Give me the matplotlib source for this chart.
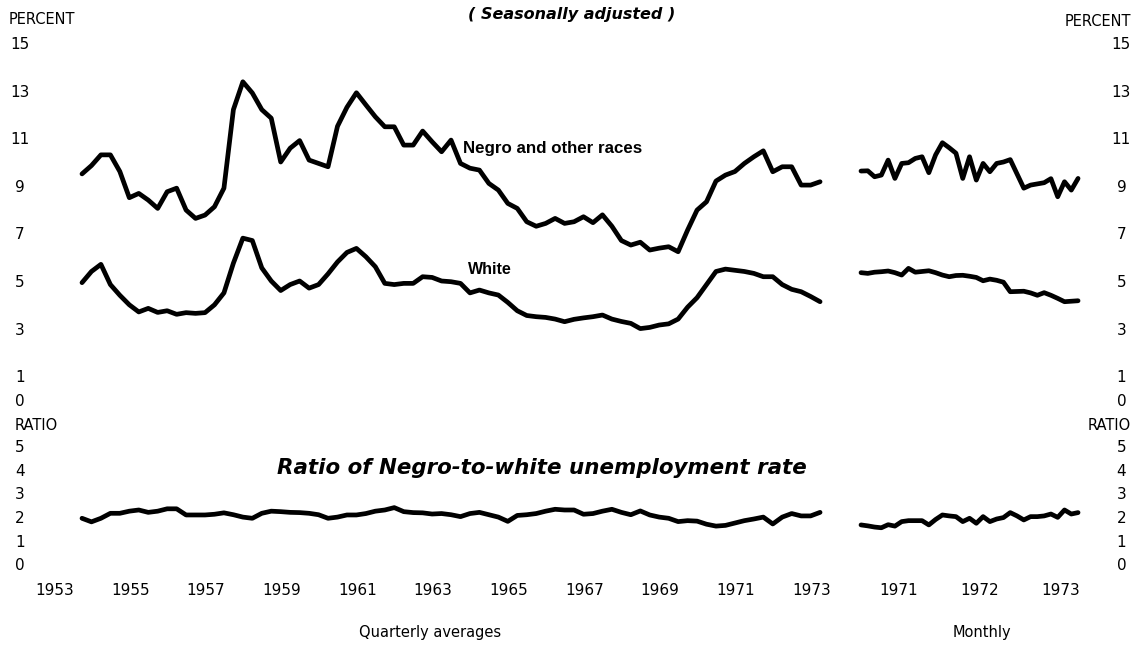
import numpy as np
import pandas as pd
import matplotlib
matplotlib.use("Agg")
import matplotlib.pyplot as plt

# ---------------- data ----------------
q_start, q_end = "1954Q1", "1973Q3"
negro_q = [9.5, 9.85, 10.3, 10.3, 9.6, 8.5, 8.68, 8.4, 8.05, 8.75,
           8.9, 7.98, 7.63, 7.77, 8.12, 8.9, 12.2, 13.37, 12.9, 12.2,
           11.84, 10.0, 10.58, 10.9, 10.08, 9.94, 9.8, 11.5, 12.3, 12.91,
           12.4, 11.9, 11.48, 11.48, 10.71, 10.71, 11.3, 10.85, 10.43, 10.92,
           9.94, 9.74, 9.66, 9.1, 8.82, 8.26, 8.05, 7.49, 7.3, 7.42,
           7.63, 7.42, 7.49, 7.7, 7.45, 7.78, 7.3, 6.7, 6.51, 6.63,
           6.3, 6.38, 6.44, 6.23, 7.14, 7.98, 8.33, 9.2, 9.45, 9.6,
           9.94, 10.22, 10.47, 9.59, 9.8, 9.8, 9.03, 9.03, 9.17]
white_q = [4.93, 5.4, 5.7, 4.85, 4.4, 4.0, 3.7, 3.85, 3.68, 3.75,
           3.6, 3.67, 3.64, 3.67, 4.0, 4.5, 5.75, 6.8, 6.7, 5.55,
           5.0, 4.6, 4.85, 5.0, 4.7, 4.85, 5.3, 5.8, 6.2, 6.37,
           6.02, 5.6, 4.9, 4.85, 4.9, 4.9, 5.18, 5.15, 5.0, 4.97,
           4.9, 4.5, 4.62, 4.5, 4.41, 4.1, 3.75, 3.55, 3.5, 3.47,
           3.4, 3.29, 3.39, 3.45, 3.5, 3.57, 3.4, 3.3, 3.22, 3.0,
           3.05, 3.15, 3.2, 3.4, 3.9, 4.3, 4.85, 5.4, 5.5, 5.45,
           5.4, 5.32, 5.18, 5.18, 4.85, 4.65, 4.55, 4.35, 4.13]
ratio_q = [1.95, 1.8, 1.95, 2.16, 2.16, 2.25, 2.3, 2.2, 2.25, 2.35,
           2.35, 2.09, 2.09, 2.09, 2.12, 2.18, 2.1, 2.0, 1.95, 2.16,
           2.25, 2.23, 2.2, 2.19, 2.16, 2.1, 1.95, 2.0, 2.09, 2.09,
           2.15, 2.25, 2.3, 2.4, 2.23, 2.19, 2.18, 2.13, 2.15, 2.1,
           2.02, 2.15, 2.2, 2.1, 2.0, 1.82, 2.07, 2.1, 2.15, 2.25,
           2.33, 2.3, 2.3, 2.12, 2.15, 2.25, 2.33, 2.2, 2.1, 2.26,
           2.09, 2.0, 1.95, 1.81, 1.85, 1.83, 1.7, 1.62, 1.65, 1.75,
           1.85, 1.92, 2.0, 1.71, 2.0, 2.15, 2.05, 2.05, 2.2]

m_start, m_end = "1971-01", "1973-09"
negro_m = [9.62, 9.63, 9.38, 9.45, 10.08, 9.31, 9.94, 9.97, 10.15, 10.22,
           9.55, 10.3, 10.81, 10.6, 10.37, 9.31, 10.22, 9.24, 9.94, 9.59,
           9.94, 10.0, 10.1, 9.5, 8.9, 9.03, 9.08, 9.13, 9.3, 8.54,
           9.17, 8.82, 9.31]
white_m = [5.35, 5.32, 5.37, 5.39, 5.42, 5.35, 5.25, 5.53, 5.37, 5.4,
           5.43, 5.35, 5.25, 5.18, 5.23, 5.24, 5.2, 5.15, 5.01, 5.08,
           5.03, 4.95, 4.55, 4.56, 4.57, 4.5, 4.4, 4.51, 4.4, 4.27,
           4.13, 4.15, 4.17]
ratio_m = [1.67, 1.63, 1.58, 1.55, 1.68, 1.62, 1.81, 1.85, 1.85, 1.85,
           1.67, 1.9, 2.09, 2.05, 2.02, 1.81, 1.95, 1.74, 2.02, 1.81,
           1.92, 1.98, 2.19, 2.05, 1.88, 2.02, 2.02, 2.05, 2.13, 1.99,
           2.3, 2.13, 2.19]

pct_ticks = [0, 1, 3, 5, 7, 9, 11, 13, 15]
ratio_ticks = [0, 1, 2, 3, 4, 5]
q_year_ticks = list(range(1953, 1974, 2))
m_year_ticks = [1971, 1972, 1973]

# ---------------- positions ----------------
qp = pd.period_range(q_start, q_end, freq="Q")
tq = qp.year + (qp.quarter - 0.5) / 4.0
mp = pd.period_range(m_start, m_end, freq="M")
tm = mp.year + (mp.month - 0.5) / 12.0

W, H = 1143, 646
fig = plt.figure(figsize=(W / 100, H / 100), dpi=100)

def ax_px(x0, y0, x1, y1):
    return fig.add_axes([x0 / W, 1 - y1 / H, (x1 - x0) / W, (y1 - y0) / H])

TOP = (43, 400)
BOT = (446, 564.5)
QX = (40, 840)
MX = (850, 1095)

ax_qt = ax_px(QX[0], TOP[0], QX[1], TOP[1])
ax_qb = ax_px(QX[0], BOT[0], QX[1], BOT[1])
ax_mt = ax_px(MX[0], TOP[0], MX[1], TOP[1])
ax_mb = ax_px(MX[0], BOT[0], MX[1], BOT[1])

pxq = 37.85
q_x0 = 1954.125 - (82 - QX[0]) / pxq
q_x1 = q_x0 + (QX[1] - QX[0]) / pxq
pxm = 81.4
m_x0 = (1971 + 0.5 / 12) - (861 - MX[0]) / pxm
m_x1 = m_x0 + (MX[1] - MX[0]) / pxm

lw = 3.4
kw = dict(color="black", lw=lw, solid_joinstyle="round", solid_capstyle="round")
ax_qt.plot(tq, negro_q, **kw)
ax_qt.plot(tq, white_q, **kw)
ax_qb.plot(tq, ratio_q, **kw)
ax_mt.plot(tm, negro_m, **kw)
ax_mt.plot(tm, white_m, **kw)
ax_mb.plot(tm, ratio_m, **kw)

tick_font = dict(family="DejaVu Sans", size=11)
for ax in (ax_qt, ax_qb, ax_mt, ax_mb):
    for s in ax.spines.values():
        s.set_visible(False)
    ax.set_facecolor("none")
    ax.tick_params(length=0)

for ax in (ax_qt, ax_qb):
    ax.set_xlim(q_x0, q_x1)
for ax in (ax_mt, ax_mb):
    ax.set_xlim(m_x0, m_x1)
for ax in (ax_qt, ax_mt):
    ax.set_ylim(0, 15)
    ax.set_xticks([])
for ax in (ax_qb, ax_mb):
    ax.set_ylim(0, 5)

# left y labels
ax_qt.set_yticks(pct_ticks)
ax_qt.set_yticklabels([str(v) for v in pct_ticks], **tick_font)
ax_qb.set_yticks(ratio_ticks)
ax_qb.set_yticklabels([str(v) for v in ratio_ticks], **tick_font)
for ax in (ax_qt, ax_qb):
    ax.tick_params(axis="y", pad=14.5)
    for lab in ax.get_yticklabels():
        lab.set_ha("center")

# right y labels
for ax, ticks in ((ax_mt, pct_ticks), (ax_mb, ratio_ticks)):
    ax.yaxis.tick_right()
    ax.set_yticks(ticks)
    ax.set_yticklabels([str(v) for v in ticks], **tick_font)
    ax.tick_params(axis="y", pad=19)
    for lab in ax.get_yticklabels():
        lab.set_ha("center")

# x labels
ax_qb.set_xticks([y + 0.4 for y in q_year_ticks])
ax_qb.set_xticklabels([str(y) for y in q_year_ticks], **tick_font)
ax_mb.set_xticks([y + 0.5 for y in m_year_ticks])
ax_mb.set_xticklabels([str(y) for y in m_year_ticks], **tick_font)
for ax in (ax_qb, ax_mb):
    ax.tick_params(axis="x", pad=13)

def ftext(x, y, s, **k):
    fig.text(x / W, 1 - y / H, s, **k)

lab_font = dict(family="DejaVu Sans", size=10.5, va="center")
ftext(9, 20, "PERCENT", ha="left", **lab_font)
ftext(1131, 22, "PERCENT", ha="right", **lab_font)
ftext(15, 426, "RATIO", ha="left", **lab_font)
ftext(1131, 426, "RATIO", ha="right", **lab_font)

ftext(572, 15, "( Seasonally adjusted )", ha="center", va="center",
      family="DejaVu Sans", weight="bold", style="italic", size=11.5)
ftext(463, 148, "Negro and other races", ha="left", va="center",
      family="Liberation Sans", weight="bold", size=12.2)
ftext(468, 270, "White", ha="left", va="center",
      family="Liberation Sans", weight="bold", size=11.5)
ftext(277, 468, "Ratio of Negro-to-white unemployment rate", ha="left",
      va="center", family="DejaVu Sans", weight="bold", style="italic",
      size=15.4)
ftext(430, 632, "Quarterly averages", ha="center", va="center",
      family="DejaVu Sans", size=10.5)
ftext(982, 632, "Monthly", ha="center", va="center",
      family="DejaVu Sans", size=10.5)

fig.savefig("out.png", dpi=100, facecolor="white")
